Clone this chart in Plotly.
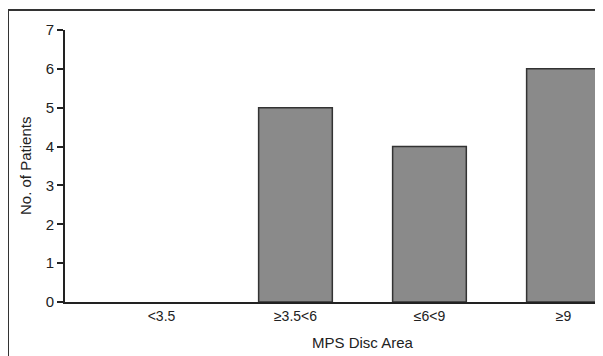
import plotly.graph_objects as go

categories = ["<3.5", "≥3.5<6", "≤6<9", "≥9"]
patients = [0, 5, 4, 6]
y_ticks = [0, 1, 2, 3, 4, 5, 6, 7]

FONT = "Liberation Sans, Arial, Helvetica, sans-serif"

# the page body has an 8px default margin, so the figure is drawn offset by 8px
OFF = 8
W, H = 603 - OFF, 356 - OFF
ML, MR, MT, MB = 65 - OFF, 0, 30 - OFF, 54
pw, ph = W - ML - MR, H - MT - MB


def px_x(p):
    return (p - OFF - ML) / pw


def px_y(p):
    return 1 - (p - OFF - MT) / ph


fig = go.Figure(go.Bar(
    x=list(range(len(categories))), y=patients,
    marker=dict(color="#8a8a8a",
                line=dict(color="#333333", width=[0 if v == 0 else 1.5 for v in patients])),
))

fig.update_layout(
    width=W, height=H,
    margin=dict(l=ML, r=MR, t=MT, b=MB),
    paper_bgcolor="white", plot_bgcolor="white",
    bargap=0.45,
    showlegend=False,
    font=dict(family=FONT, size=14, color="#222222"),
    xaxis=dict(
        range=[-0.72, 3.295],
        tickmode="array", tickvals=list(range(len(categories))), ticktext=categories,
        showline=True, linewidth=2, linecolor="#222222",
        ticks="", showgrid=False, zeroline=False,
        tickfont=dict(size=14, family=FONT),
    ),
    yaxis=dict(
        range=[0, 7],
        tickmode="array", tickvals=y_ticks,
        showline=True, linewidth=2, linecolor="#222222",
        ticks="outside", ticklen=6, tickwidth=1.5, tickcolor="#222222",
        showgrid=False, zeroline=False,
        tickfont=dict(size=15, family=FONT),
    ),
    annotations=[
        dict(text="MPS Disc Area", xref="paper", yref="paper",
             x=px_x(363), y=px_y(342), xanchor="center", yanchor="middle",
             showarrow=False, font=dict(size=15, family=FONT)),
        dict(text="No. of Patients", xref="paper", yref="paper",
             x=px_x(25), y=px_y(166), xanchor="center", yanchor="middle",
             textangle=-90, showarrow=False, font=dict(size=15, family=FONT)),
    ],
    shapes=[dict(
        type="rect", xref="paper", yref="paper",
        x0=px_x(8), x1=px_x(660), y0=px_y(10), y1=px_y(420),
        line=dict(color="#333333", width=2), fillcolor="rgba(0,0,0,0)",
        layer="below",
    )],
)

fig.write_html("out.html")
